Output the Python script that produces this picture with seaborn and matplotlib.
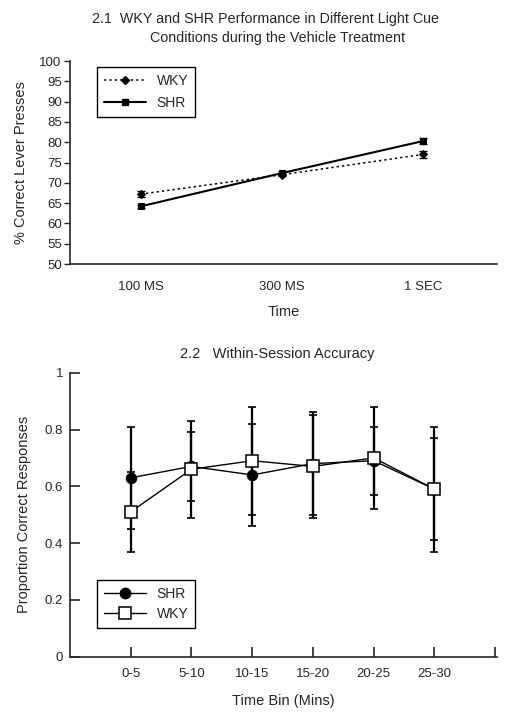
import matplotlib
matplotlib.use("Agg")
import matplotlib.pyplot as plt
import seaborn as sns
import pandas as pd
import numpy as np
from matplotlib.lines import Line2D

# ---- Data: panel 2.1 ----
cue_labels = ["100 MS", "300 MS", "1 SEC"]
wky_cue = [67.2, 72.0, 77.0]
wky_cue_err = [0.8, 0.3, 0.9]
shr_cue = [64.2, 72.4, 80.3]
shr_cue_err = [0.3, 0.4, 0.8]

# ---- Data: panel 2.2 ----
bin_labels = ["0-5", "5-10", "10-15", "15-20", "20-25", "25-30"]
shr_bin = [0.63, 0.67, 0.64, 0.68, 0.69, 0.59]
shr_bin_err = [0.18, 0.12, 0.18, 0.18, 0.12, 0.18]
wky_bin = [0.51, 0.66, 0.69, 0.67, 0.70, 0.59]
wky_bin_err = [0.14, 0.17, 0.19, 0.18, 0.18, 0.22]

sns.set_style("ticks")
plt.rcParams['font.family'] = ['Liberation Sans', 'DejaVu Sans']

fig = plt.figure(figsize=(5.12, 7.17), dpi=100)
ax1 = fig.add_axes([70/512, 1-264/717, (497-70)/512, (264-61)/717])
ax2 = fig.add_axes([70/512, 1-656.7/717, (497-70)/512, (656.7-372.7)/717])

# ---- Panel 2.1 ----
df1 = pd.DataFrame({
    "x": list(range(len(cue_labels))) * 2,
    "y": wky_cue + shr_cue,
    "group": ["WKY"] * 3 + ["SHR"] * 3,
})
x1 = np.arange(len(cue_labels))
ax1.errorbar(x1, wky_cue, yerr=wky_cue_err, fmt='none', ecolor='black', elinewidth=1, capsize=3)
ax1.errorbar(x1, shr_cue, yerr=shr_cue_err, fmt='none', ecolor='black', elinewidth=1, capsize=3)
sns.lineplot(data=df1[df1.group == "WKY"], x="x", y="y", ax=ax1, color='black',
             linestyle=(0, (1.5, 2)), linewidth=1.1, marker='D', markersize=4.5,
             markeredgecolor='black', markerfacecolor='black', legend=False)
sns.lineplot(data=df1[df1.group == "SHR"], x="x", y="y", ax=ax1, color='black',
             linestyle='-', linewidth=1.5, marker='s', markersize=5,
             markeredgecolor='black', markerfacecolor='black', legend=False)
ax1.set_xlim(-0.5, 2.52)
ax1.set_ylim(50, 100)
ax1.set_yticks(np.arange(50, 101, 5))
ax1.set_xticks(x1)
ax1.set_xticklabels(cue_labels, fontsize=9.5)
ax1.tick_params(axis='x', length=0, pad=12)
ax1.tick_params(axis='y', direction='out', length=4, width=1, labelsize=9.5, pad=2)
for s in ['top', 'right']:
    ax1.spines[s].set_visible(False)
for s in ['left', 'bottom']:
    ax1.spines[s].set_linewidth(1.2)
ax1.set_xlabel("Time", fontsize=10.5, labelpad=9)
ax1.set_ylabel("% Correct Lever Presses", fontsize=10.5, labelpad=8)
h1 = [Line2D([], [], color='black', linestyle=(0, (1.5, 2)), linewidth=1.1, marker='D', markersize=4.5),
      Line2D([], [], color='black', linestyle='-', linewidth=1.5, marker='s', markersize=5)]
leg1 = ax1.legend(h1, ["WKY", "SHR"], loc='upper left', bbox_to_anchor=(0.063, 0.97),
                  borderaxespad=0, fancybox=False, edgecolor='black', fontsize=10,
                  handlelength=3.0, borderpad=0.5, labelspacing=0.55, framealpha=1)
leg1.get_frame().set_linewidth(1.0)
fig.text(266/512, 1-19/717, "2.1  WKY and SHR Performance in Different Light Cue",
         ha='center', va='center', fontsize=10.3)
fig.text(278/512, 1-38/717, "Conditions during the Vehicle Treatment",
         ha='center', va='center', fontsize=10.3)

# ---- Panel 2.2 ----
x2 = np.arange(len(bin_labels))
df2 = pd.DataFrame({
    "x": list(x2) * 2,
    "y": shr_bin + wky_bin,
    "group": ["SHR"] * 6 + ["WKY"] * 6,
})
ax2.errorbar(x2, shr_bin, yerr=shr_bin_err, fmt='none', ecolor='black', elinewidth=1.6, capsize=3, capthick=1.2)
ax2.errorbar(x2, wky_bin, yerr=wky_bin_err, fmt='none', ecolor='black', elinewidth=1.6, capsize=3, capthick=1.2)
sns.lineplot(data=df2[df2.group == "SHR"], x="x", y="y", ax=ax2, color='black',
             linewidth=1.0, marker='o', markersize=7.5, markeredgecolor='black',
             markerfacecolor='black', legend=False)
sns.lineplot(data=df2[df2.group == "WKY"], x="x", y="y", ax=ax2, color='black',
             linewidth=1.0, marker='s', markersize=8, markeredgecolor='black',
             markerfacecolor='white', markeredgewidth=1.1, legend=False)
ax2.set_xlim(-1, 6.03)
ax2.set_ylim(0, 1)
ax2.set_yticks([0, 0.2, 0.4, 0.6, 0.8, 1])
ax2.set_yticklabels(["0", "0.2", "0.4", "0.6", "0.8", "1"])
ax2.set_xticks(list(x2) + [6])
ax2.set_xticklabels(bin_labels + [""], fontsize=9.5)
ax2.tick_params(axis='x', direction='in', length=7, width=1.2, pad=8)
ax2.tick_params(axis='y', direction='in', length=7, width=1.2, labelsize=9.5, pad=5)
for s in ['top', 'right']:
    ax2.spines[s].set_visible(False)
for s in ['left', 'bottom']:
    ax2.spines[s].set_linewidth(1.2)
ax2.set_xlabel("Time Bin (Mins)", fontsize=10.5, labelpad=10)
ax2.set_ylabel("Proportion Correct Responses", fontsize=10.5, labelpad=10)
h2 = [Line2D([], [], color='black', linewidth=1.0, marker='o', markersize=7.5),
      Line2D([], [], color='black', linewidth=1.0, marker='s', markersize=8,
             markerfacecolor='white', markeredgewidth=1.1)]
leg2 = ax2.legend(h2, ["SHR", "WKY"], loc='lower left', bbox_to_anchor=(0.063, 0.10),
                  borderaxespad=0, fancybox=False, edgecolor='black', fontsize=10,
                  handlelength=3.0, borderpad=0.5, labelspacing=0.45, framealpha=1)
leg2.get_frame().set_linewidth(1.0)
fig.text(277/512, 1-354/717, "2.2   Within-Session Accuracy", ha='center', va='center', fontsize=10.5)

fig.savefig("out.png", dpi=100)
